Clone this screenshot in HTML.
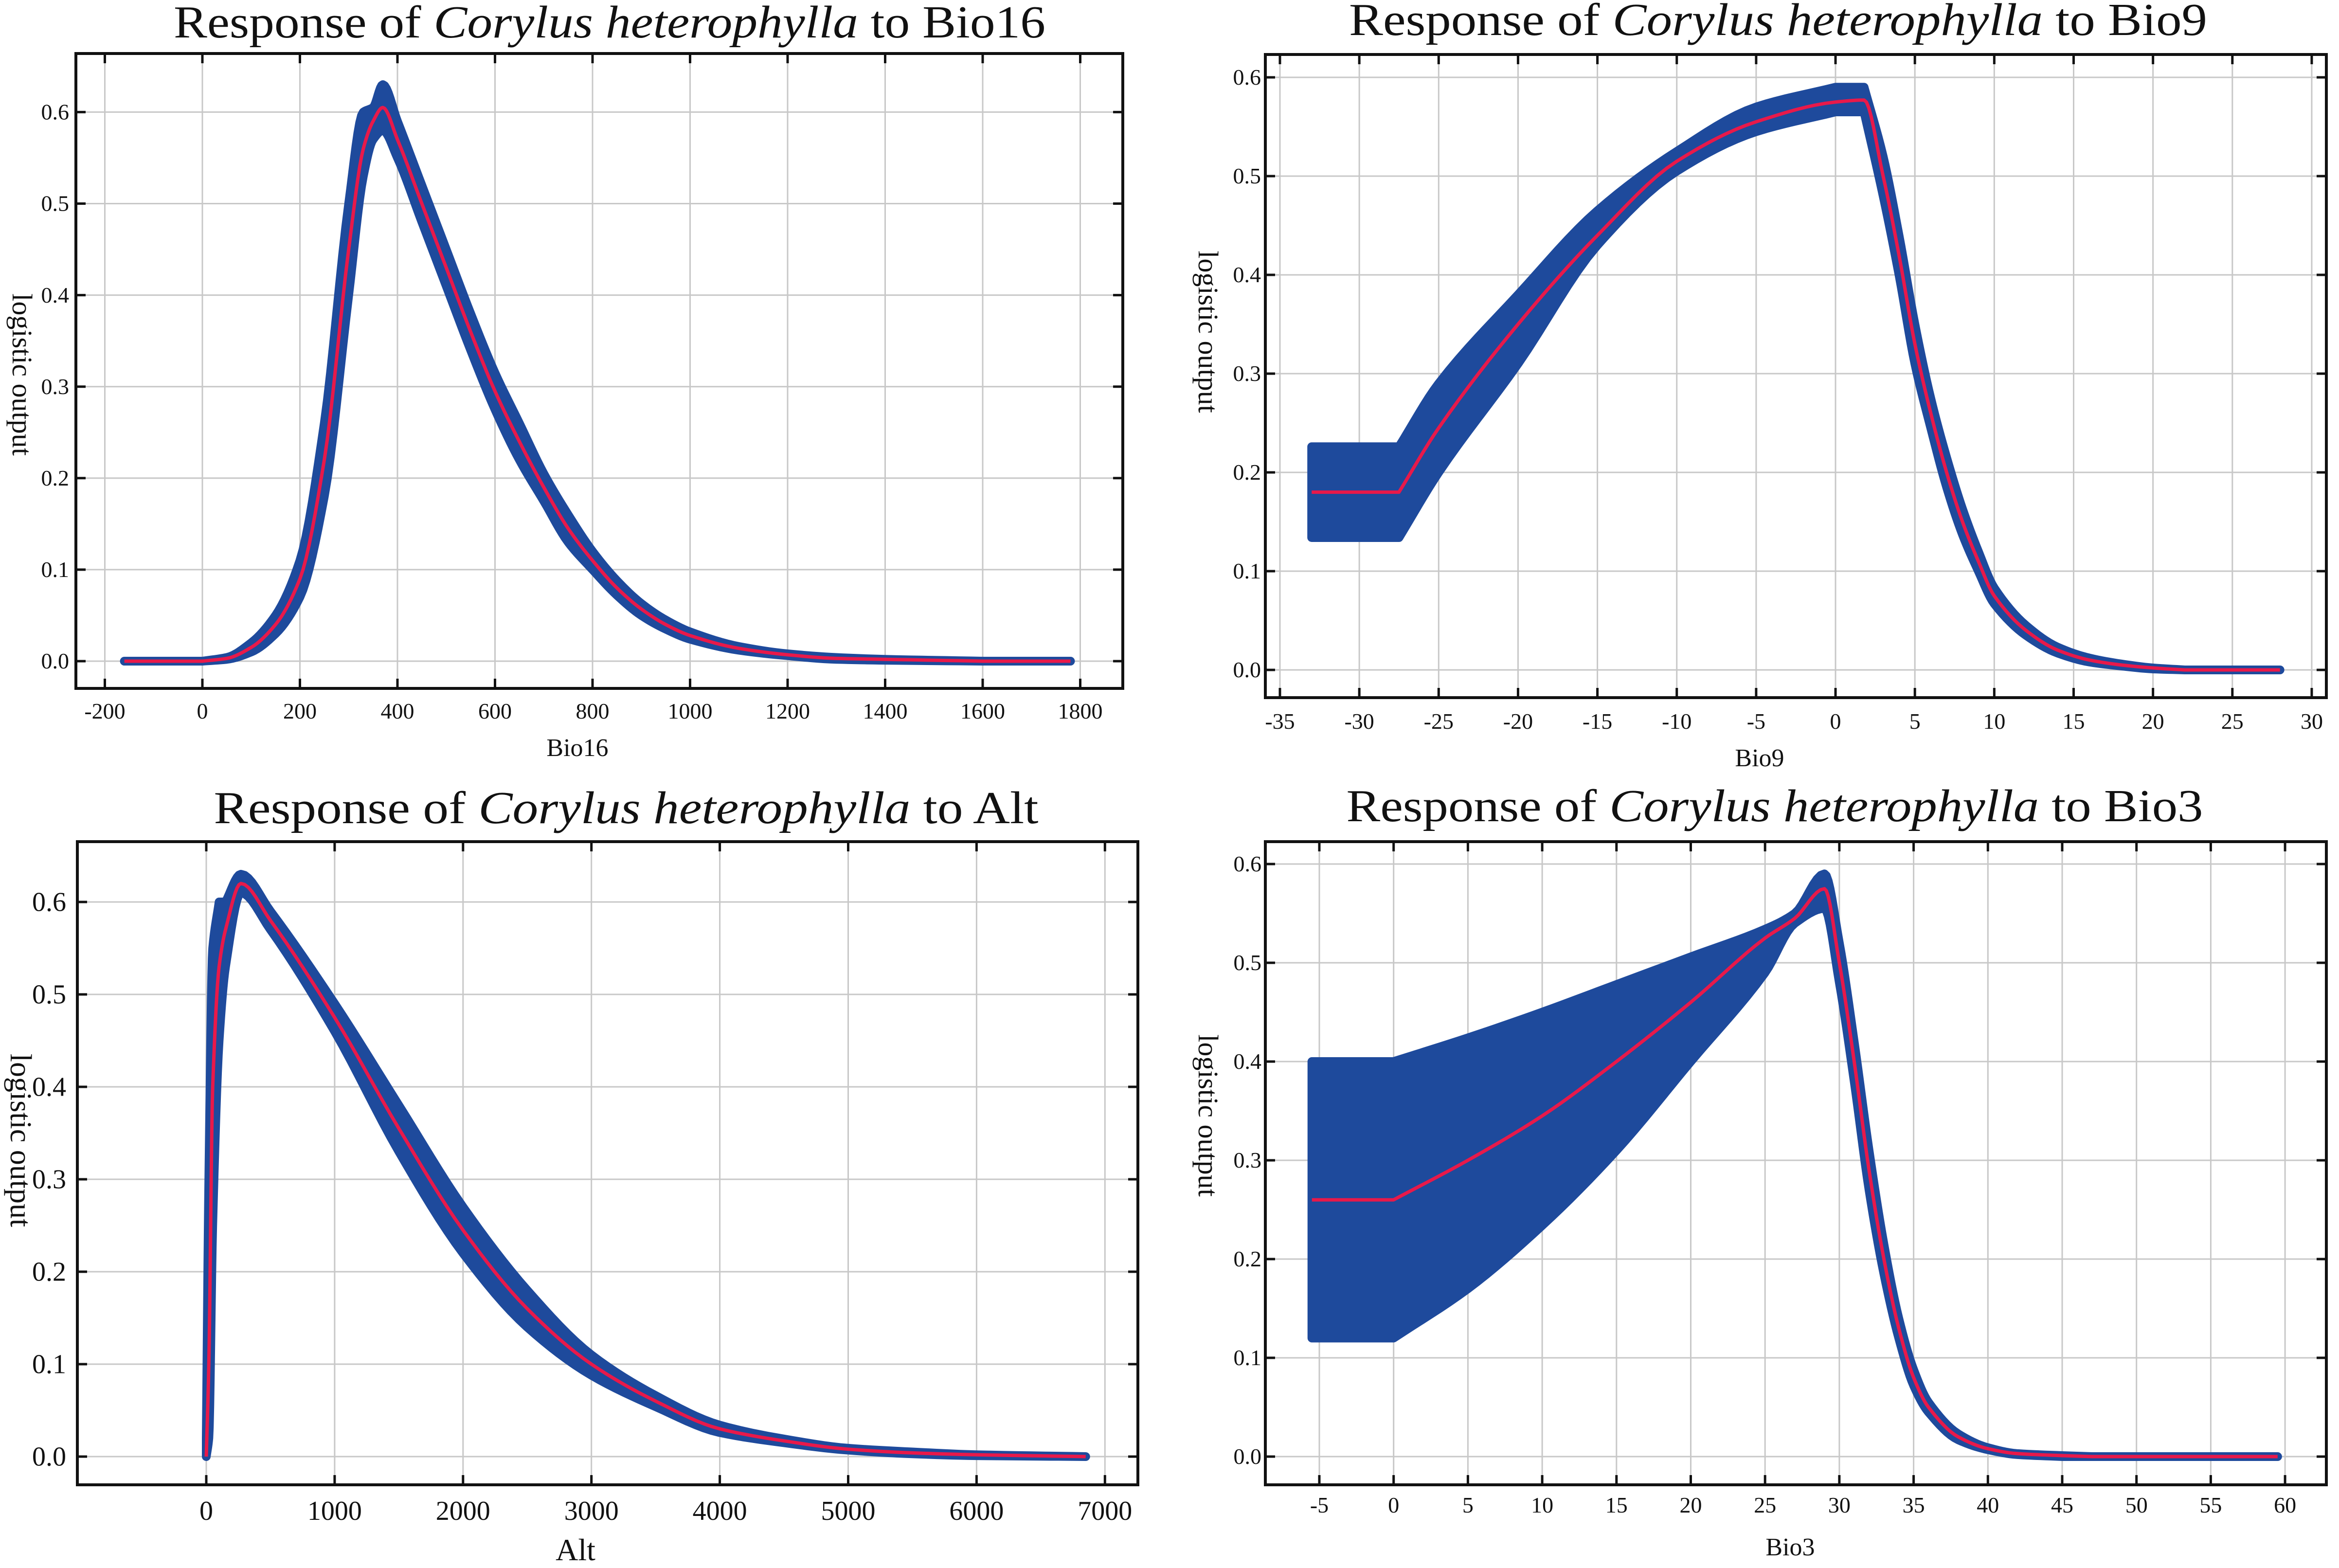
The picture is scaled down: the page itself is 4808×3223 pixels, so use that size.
<!DOCTYPE html>
<html><head><meta charset="utf-8">
<style>
html,body{margin:0;padding:0;background:#fff;}
svg{display:block;}
text{font-family:"Liberation Serif",serif;fill:#111;}
</style></head>
<body>
<svg id="fig" xmlns="http://www.w3.org/2000/svg" width="4808" height="3223" viewBox="0 0 4808 3223">
<rect x="0" y="0" width="4808" height="3223" fill="#fff"/>
</svg>
<script>
// ---- Bio16 data ----
const bio16X = [-160,0,50,100,150,200,250,300,330,350,370,400,450,500,550,600,650,700,750,800,850,900,950,1000,1100,1200,1300,1400,1600,1780];
const bio16Mean = [0,0,0.003,0.015,0.04,0.09,0.22,0.45,0.56,0.59,0.605,0.57,0.5,0.43,0.36,0.295,0.24,0.19,0.145,0.11,0.08,0.057,0.04,0.028,0.014,0.007,0.003,0.002,0,0];
const bio16Hi = [0,0,0.004,0.02,0.05,0.11,0.26,0.5,0.6,0.605,0.63,0.59,0.52,0.45,0.38,0.315,0.26,0.205,0.16,0.12,0.088,0.063,0.045,0.032,0.016,0.008,0.004,0.002,0,0];
const bio16Lo = [0,0,0.002,0.01,0.03,0.07,0.18,0.4,0.53,0.57,0.58,0.55,0.48,0.41,0.34,0.275,0.22,0.175,0.13,0.1,0.072,0.05,0.035,0.024,0.012,0.006,0.002,0.001,0,0];
const bio16XTicks = [-200,0,200,400,600,800,1000,1200,1400,1600,1800];
// ---- Bio9 data ----
const bio9X = [-33,-27.5,-25,-20,-15,-10,-5,0,1.8,3,4,5,6,7,8,9,10,12,14,16,18,20,22,28];
const bio9Mean = [0.18,0.18,0.245,0.35,0.44,0.515,0.555,0.575,0.577,0.5,0.42,0.33,0.26,0.2,0.15,0.11,0.075,0.04,0.02,0.01,0.005,0.002,0,0];
const bio9Hi = [0.226,0.226,0.29,0.38,0.465,0.525,0.57,0.59,0.59,0.52,0.44,0.35,0.275,0.215,0.163,0.12,0.083,0.045,0.023,0.012,0.006,0.002,0,0];
const bio9Lo = [0.134,0.134,0.2,0.31,0.43,0.505,0.545,0.565,0.565,0.48,0.4,0.31,0.245,0.185,0.137,0.1,0.067,0.035,0.017,0.008,0.004,0.001,0,0];
const bio9XTicks = [-35,-30,-25,-20,-15,-10,-5,0,5,10,15,20,25,30];
// ---- Alt data ----
const altX = [0,20,50,100,150,270,500,1000,1500,2000,2500,3000,3500,4000,4500,5000,5500,6000,6850];
const altMean = [0,0.1,0.4,0.53,0.57,0.62,0.58,0.475,0.355,0.245,0.16,0.1,0.06,0.03,0.017,0.008,0.004,0.002,0];
const altHi = [0.02,0.3,0.55,0.6,0.6,0.63,0.59,0.49,0.38,0.27,0.18,0.11,0.066,0.034,0.019,0.009,0.005,0.002,0];
const altLo = [0,0.02,0.25,0.45,0.53,0.61,0.57,0.46,0.33,0.22,0.14,0.088,0.054,0.026,0.015,0.007,0.003,0.001,0];
const altXTicks = [0,1000,2000,3000,4000,5000,6000,7000];
// ---- Bio3 data ----
const bio3X = [-5.5,0,5,10,15,20,25,27,29,30,31,32,33,34,35,36,38,40,42,45,47,59.5];
const bio3Mean = [0.26,0.26,0.3,0.345,0.4,0.46,0.525,0.545,0.575,0.5,0.4,0.29,0.2,0.13,0.08,0.05,0.02,0.008,0.003,0.001,0,0];
const bio3Hi = [0.4,0.4,0.424,0.45,0.478,0.506,0.534,0.55,0.59,0.52,0.42,0.31,0.215,0.14,0.088,0.055,0.023,0.009,0.003,0.001,0,0];
const bio3Lo = [0.12,0.12,0.17,0.234,0.31,0.4,0.49,0.54,0.555,0.48,0.38,0.27,0.185,0.12,0.072,0.045,0.017,0.007,0.002,0,0,0];
const bio3XTicks = [-5,0,5,10,15,20,25,30,35,40,45,50,55,60];
const yTicks = [0,0.1,0.2,0.3,0.4,0.5,0.6];
const yTickLabels = ["0.0","0.1","0.2","0.3","0.4","0.5","0.6"];

const NS = "http://www.w3.org/2000/svg";
const svg = document.getElementById('fig');
function mk(tag, attrs, parent){
  const e = document.createElementNS(NS, tag);
  for (const k in attrs) e.setAttribute(k, attrs[k]);
  (parent||svg).appendChild(e);
  return e;
}

// monotone cubic sampler with sharp corners where a flat run meets a slope
function monoSample(xs, ys, steps){
  const n = xs.length, d = [], mL = new Array(n), mR = new Array(n);
  for (let i=0;i<n-1;i++) d.push((ys[i+1]-ys[i])/(xs[i+1]-xs[i]));
  mR[0]=d[0]; mL[n-1]=d[n-2];
  for (let i=1;i<n-1;i++){
    const a=d[i-1], b=d[i];
    if (a===0 || b===0){ mL[i]=a; mR[i]=b; }
    else if (a*b < 0){ mL[i]=0; mR[i]=0; }
    else { const m = 3*(a+b) / ((2*b+a)/a + (b+2*a)/b); mL[i]=m; mR[i]=m; }
  }
  const out = [];
  for (let i=0;i<n-1;i++){
    const h = xs[i+1]-xs[i];
    for (let s=0;s<steps;s++){
      const t = s/steps, t2=t*t, t3=t2*t;
      const y = (2*t3-3*t2+1)*ys[i] + (t3-2*t2+t)*h*mR[i] + (-2*t3+3*t2)*ys[i+1] + (t3-t2)*h*mL[i+1];
      out.push([xs[i]+t*h, y]);
    }
  }
  out.push([xs[n-1], ys[n-1]]);
  return out;
}

function drawChart(c){
  const g = mk('g', {});
  
  
  const sx = v => c.x0px + (v - c.x0v) * c.pxPerX;
  const sy = v => c.y0px - v * c.pxPerY;
  c.xTicks.forEach(t => {
    const l = mk('line', {x1:sx(t), x2:sx(t), y1:c.top, y2:c.bottom, stroke:'#c8c8c8', 'stroke-width':3}, g);
    
    
  });
  yTicks.forEach(t => {
    const l = mk('line', {x1:c.left, x2:c.right, y1:sy(t), y2:sy(t), stroke:'#c8c8c8', 'stroke-width':3}, g);
    
    
  });
  const hiS = monoSample(c.xs, c.hi, 8), loS = monoSample(c.xs, c.lo, 8), meanS = monoSample(c.xs, c.mean, 8);
  let pts = hiS.map(p=>sx(p[0])+','+sy(p[1]));
  for (let i=loS.length-1;i>=0;i--) pts.push(sx(loS[i][0])+','+sy(loS[i][1]));
  const band = mk('polygon', {points:pts.join(' '), fill:'#1e4a9c', stroke:'#1e4a9c', 'stroke-width':18, 'stroke-linejoin':'round'}, g);
  
  
  const mp = meanS.map(p=>sx(p[0])+','+sy(p[1])).join(' ');
  const line = mk('polyline', {points:mp, fill:'none', stroke:'#e8194a', 'stroke-width':7, 'stroke-linejoin':'round'}, g);
  
  
  const box = mk('rect', {x:c.left, y:c.top, width:c.right-c.left, height:c.bottom-c.top, fill:'none', stroke:'#111', 'stroke-width':6}, g);
  
  
  c.xTicks.forEach(t => {
    mk('line', {x1:sx(t), x2:sx(t), y1:c.bottom, y2:c.bottom-20, stroke:'#111', 'stroke-width':5}, g);
    mk('line', {x1:sx(t), x2:sx(t), y1:c.top, y2:c.top+20, stroke:'#111', 'stroke-width':5}, g);
    const tx = mk('text', {x:sx(t), y:c.xLabBase, 'text-anchor':'middle', 'font-size':c.tickFont}, g);
    tx.textContent = String(t);
    
    
  });
  yTicks.forEach((t,i) => {
    mk('line', {x1:c.left, x2:c.left+20, y1:sy(t), y2:sy(t), stroke:'#111', 'stroke-width':5}, g);
    mk('line', {x1:c.right, x2:c.right-20, y1:sy(t), y2:sy(t), stroke:'#111', 'stroke-width':5}, g);
    const ty = mk('text', {x:c.yLabRight, y:sy(t)+c.tickFont*0.33, 'text-anchor':'end', 'font-size':c.tickFont}, g);
    ty.textContent = yTickLabels[i];
    
    
  });
  const title = mk('text', {x:c.titleX, y:c.titleY, 'text-anchor':'middle', 'font-size':94, textLength:c.titleW, lengthAdjust:'spacingAndGlyphs'}, g);
  
  
  title.appendChild(document.createTextNode('Response of '));
  const it = mk('tspan', {'font-style':'italic'}, title);
  it.textContent = 'Corylus heterophylla';
  title.appendChild(document.createTextNode(' to ' + c.varName));
  const xt = mk('text', {x:c.xTitleX, y:c.xTitleY, 'text-anchor':'middle', 'font-size':c.axFont}, g);
  xt.textContent = c.varName;
  
  
  const yt = mk('text', {x:0, y:0, 'text-anchor':'middle', 'font-size':c.yAxFont, transform:'translate('+c.yTitleX+','+c.yTitleY+') rotate(90)'}, g);
  yt.textContent = 'logistic output';
  
  
}

drawChart({name:'chart-bio16', varName:'Bio16', xs:bio16X, mean:bio16Mean, hi:bio16Hi, lo:bio16Lo, xTicks:bio16XTicks,
  left:156, right:2308, top:110, bottom:1415, x0px:416, x0v:0, pxPerX:200.5/200, y0px:1359, pxPerY:1881,
  xLabBase:1477, yLabRight:142, tickFont:46, titleX:1253, titleY:77, titleW:1792, xTitleX:1187, xTitleY:1554, yTitleX:26, yTitleY:770, axFont:52, yAxFont:58});
drawChart({name:'chart-bio9', varName:'Bio9', xs:bio9X, mean:bio9Mean, hi:bio9Hi, lo:bio9Lo, xTicks:bio9XTicks,
  left:2601, right:4782, top:112, bottom:1434, x0px:2631, x0v:-35, pxPerX:32.63, y0px:1377, pxPerY:2030,
  xLabBase:1498, yLabRight:2592, tickFont:46, titleX:3655, titleY:72, titleW:1764, xTitleX:3617, xTitleY:1575, yTitleX:2464, yTitleY:682, axFont:52, yAxFont:58});
drawChart({name:'chart-alt', varName:'Alt', xs:altX, mean:altMean, hi:altHi, lo:altLo, xTicks:altXTicks,
  left:159, right:2339, top:1730, bottom:3052, x0px:424, x0v:0, pxPerX:0.2639, y0px:2994, pxPerY:1900,
  xLabBase:3124, yLabRight:136, tickFont:56, titleX:1287, titleY:1692, titleW:1695, xTitleX:1183, xTitleY:3207, yTitleX:22, yTitleY:2344, axFont:64, yAxFont:62});
drawChart({name:'chart-bio3', varName:'Bio3', xs:bio3X, mean:bio3Mean, hi:bio3Hi, lo:bio3Lo, xTicks:bio3XTicks,
  left:2601, right:4782, top:1730, bottom:3052, x0px:2712, x0v:-5, pxPerX:30.54, y0px:2994, pxPerY:2030,
  xLabBase:3109, yLabRight:2593, tickFont:46, titleX:3648, titleY:1688, titleW:1761, xTitleX:3680, xTitleY:3197, yTitleX:2464, yTitleY:2293, axFont:52, yAxFont:58});
</script>
</body></html>
